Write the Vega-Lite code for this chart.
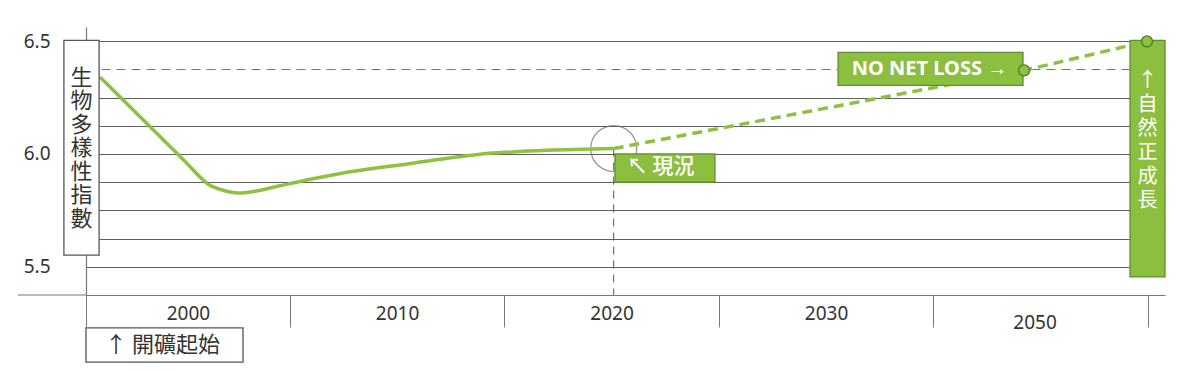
{
  "$schema": "https://vega.github.io/schema/vega-lite/v6.json",
  "autosize": {"type": "none"},
  "padding": {"left": 86, "top": 27, "right": 35, "bottom": 76},
  "width": 1079,
  "height": 268,
  "background": "#ffffff",
  "config": {
    "view": {"stroke": null},
    "text": {"font": "Noto Sans CJK TC"}
  },
  "datasets": {
    "curve": [
      {"year": 1996.15, "value": 6.341, "series": "actual"},
      {"year": 1997.55, "value": 6.209, "series": "actual"},
      {"year": 1998.95, "value": 6.077, "series": "actual"},
      {"year": 2000.12, "value": 5.967, "series": "actual"},
      {"year": 2001.2, "value": 5.866, "series": "actual"},
      {"year": 2001.89, "value": 5.839, "series": "actual"},
      {"year": 2002.59, "value": 5.827, "series": "actual"},
      {"year": 2003.38, "value": 5.835, "series": "actual"},
      {"year": 2004.54, "value": 5.859, "series": "actual"},
      {"year": 2006.08, "value": 5.89, "series": "actual"},
      {"year": 2007.67, "value": 5.919, "series": "actual"},
      {"year": 2010.74, "value": 5.959, "series": "actual"},
      {"year": 2013.87, "value": 5.999, "series": "actual"},
      {"year": 2015.41, "value": 6.009, "series": "actual"},
      {"year": 2016.99, "value": 6.016, "series": "actual"},
      {"year": 2020.1, "value": 6.024, "series": "actual"},
      {"year": 2020.1, "value": 6.024, "series": "projected"},
      {"year": 2039.23, "value": 6.37, "series": "projected"},
      {"year": 2044.96, "value": 6.499, "series": "projected"}
    ],
    "boxes": [
      {"name": "axis title", "x1": 1994.47, "x2": 1996.11, "y1": 6.503, "y2": 5.552, "kind": "white"},
      {"name": "mining start", "x1": 1995.5, "x2": 2002.82, "y1": 5.229, "y2": 5.078, "kind": "white"},
      {"name": "now", "x1": 2020.16, "x2": 2024.82, "y1": 6.0, "y2": 5.875, "kind": "green"},
      {"name": "no net loss", "x1": 2030.56, "x2": 2039.18, "y1": 6.45, "y2": 6.304, "kind": "green"},
      {"name": "net positive", "x1": 2044.17, "x2": 2045.8, "y1": 6.503, "y2": 5.455, "kind": "green"}
    ]
  },
  "encoding": {
    "x": {
      "field": "year",
      "type": "quantitative",
      "scale": {"domain": [1995.5, 2045.8], "nice": false, "zero": false},
      "axis": {
        "title": null,
        "grid": false,
        "values": [1995.5, 2000.25, 2005, 2010, 2015, 2020, 2025, 2030, 2035, 2040, 2045],
        "tickSize": 32,
        "tickColor": "#777777",
        "tickWidth": 1,
        "tickOpacity": {"condition": {"test": "datum.value == 1995.5 || datum.value % 10 == 5", "value": 1}, "value": 0},
        "labelExpr": "datum.value == 2000.25 ? '2000' : (datum.value % 10 == 0 ? (datum.value == 2040 ? '2050' : toString(datum.value)) : '')",
        "labelBaseline": "middle",
        "labelPadding": {"condition": {"test": "datum.value == 2040", "value": -5}, "value": -14},
        "labelOffset": {"condition": {"test": "datum.value == 2040", "value": -6}, "value": 0},
        "labelFont": "Noto Sans",
        "labelFontSize": 19,
        "labelColor": "#333333",
        "labelFlush": false,
        "labelOverlap": false,
        "domainColor": "#777777",
        "domainWidth": 1.2
      }
    },
    "y": {
      "field": "value",
      "type": "quantitative",
      "scale": {"domain": [5.375, 6.5625], "nice": false, "zero": false},
      "axis": {
        "title": null,
        "values": [5.5, 5.625, 5.75, 5.875, 6.0, 6.125, 6.25, 6.375, 6.5],
        "grid": true,
        "gridColor": {"condition": {"test": "datum.value == 6.375", "value": "#777777"}, "value": "#5f5f5f"},
        "gridDash": {"condition": {"test": "datum.value == 6.375", "value": [9, 6]}, "value": []},
        "gridWidth": 1,
        "ticks": false,
        "labelExpr": "(datum.value == 5.5 || datum.value == 6 || datum.value == 6.5) ? format(datum.value, '.1f') : ''",
        "labelPadding": 36,
        "labelFont": "Noto Sans",
        "labelFontSize": 19,
        "labelColor": "#333333",
        "labelOverlap": false,
        "domainColor": "#777777",
        "domainWidth": 1.2
      }
    }
  },
  "layer": [
    {
      "data": {"values": [{"year": 1992.33, "year2": 1995.5, "value": 5.375}]},
      "mark": {"type": "rule", "color": "#777777", "strokeWidth": 1.2},
      "encoding": {"x2": {"field": "year2"}}
    },
    {
      "data": {"values": [{"year": 2020.1, "value": 6.024, "value2": 5.375}]},
      "mark": {"type": "rule", "color": "#555555", "strokeWidth": 1, "strokeDash": [8, 6]},
      "encoding": {"y2": {"field": "value2"}}
    },
    {
      "data": {"values": [{"year": 2020.1, "value": 6.024}]},
      "mark": {"type": "point", "shape": "circle", "filled": false, "size": 2116, "stroke": "#666666", "strokeWidth": 1.2}
    },
    {
      "data": {"name": "curve"},
      "transform": [{"filter": "datum.series == 'actual'"}],
      "mark": {"type": "line", "color": "#8dc043", "strokeWidth": 3.5, "interpolate": "monotone"}
    },
    {
      "data": {"name": "curve"},
      "transform": [{"filter": "datum.series == 'projected'"}],
      "mark": {"type": "line", "color": "#8dc043", "strokeWidth": 3.5, "strokeDash": [10, 6]}
    },
    {
      "data": {"name": "boxes"},
      "mark": {"type": "rect", "strokeWidth": 1.3},
      "encoding": {
        "x": {"field": "x1", "type": "quantitative"},
        "x2": {"field": "x2"},
        "y": {"field": "y1", "type": "quantitative"},
        "y2": {"field": "y2"},
        "fill": {"field": "kind", "type": "nominal", "scale": {"domain": ["white", "green"], "range": ["#ffffff", "#8cbf3f"]}, "legend": null},
        "stroke": {"field": "kind", "type": "nominal", "scale": {"domain": ["white", "green"], "range": ["#555555", "#5e8e2f"]}, "legend": null}
      }
    },
    {
      "data": {"values": [{"year": 2039.23, "value": 6.37}, {"year": 2044.96, "value": 6.499}]},
      "mark": {"type": "point", "shape": "circle", "filled": true, "size": 121, "fill": "#8dc043", "stroke": "#4f7a26", "strokeWidth": 1.3, "opacity": 1}
    },
    {
      "data": {"values": [{"year": 1995.29, "value": 6.338, "text": "生\n物\n多\n樣\n性\n指\n數"}]},
      "mark": {"type": "text", "align": "center", "baseline": "middle", "lineBreak": "\n", "fontSize": 22, "lineHeight": 23.5, "color": "#333333"},
      "encoding": {"text": {"field": "text"}}
    },
    {
      "data": {"values": [{"year": 2044.99, "value": 6.322, "text": "↑\n自\n然\n正\n成\n長"}]},
      "mark": {"type": "text", "align": "center", "baseline": "middle", "lineBreak": "\n", "fontSize": 20, "lineHeight": 24, "color": "#ffffff"},
      "encoding": {"text": {"field": "text"}}
    },
    {
      "data": {"values": [{"year": 1996.39, "value": 5.154, "text": "↑ 開礦起始"}]},
      "mark": {"type": "text", "align": "left", "baseline": "middle", "fontSize": 22, "color": "#333333"},
      "encoding": {"text": {"field": "text"}}
    },
    {
      "data": {"values": [{"year": 2020.71, "value": 5.941, "text": "↖ 現況"}]},
      "mark": {"type": "text", "align": "left", "baseline": "middle", "fontSize": 21, "fontWeight": 500, "color": "#ffffff"},
      "encoding": {"text": {"field": "text"}}
    },
    {
      "data": {"values": [{"year": 2031.2, "value": 6.377, "text": "NO NET LOSS →"}]},
      "mark": {"type": "text", "align": "left", "baseline": "middle", "font": "Noto Sans", "fontSize": 20, "fontWeight": "bold", "color": "#ffffff"},
      "encoding": {"text": {"field": "text"}}
    }
  ]
}
